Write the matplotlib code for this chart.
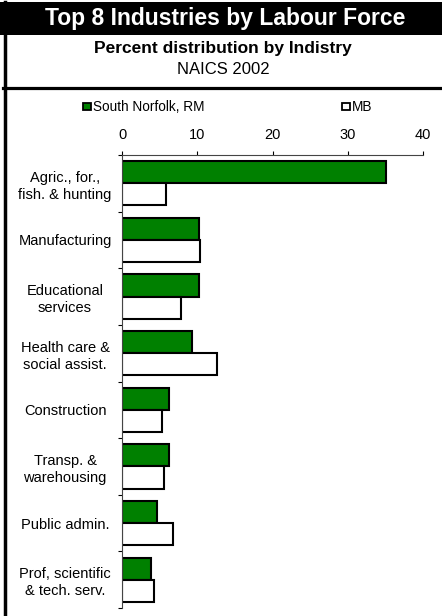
import matplotlib
matplotlib.use("Agg")
import matplotlib.pyplot as plt
from matplotlib.patches import Rectangle
from matplotlib.lines import Line2D
import numpy as np

plt.rcParams['font.family'] = ['Liberation Sans', 'DejaVu Sans']

categories = ["Agric., for.,\nfish. & hunting", "Manufacturing", "Educational\nservices",
              "Health care &\nsocial assist.", "Construction", "Transp. &\nwarehousing",
              "Public admin.", "Prof, scientific\n& tech. serv."]
south_norfolk = [35.1, 10.2, 10.2, 9.3, 6.2, 6.2, 4.6, 3.9]
mb = [5.9, 10.4, 7.8, 12.6, 5.3, 5.6, 6.8, 4.2]
series_names = ["South Norfolk, RM", "MB"]
xticks = [0, 10, 20, 30, 40]

W, H = 442, 616
fig = plt.figure(figsize=(W / 100, H / 100), dpi=100)
fig.patch.set_facecolor('white')

def fx(px):
    return px / W

def fy(py):
    return 1 - py / H

# title band
fig.patches.append(Rectangle((fx(0), fy(35)), 1, fy(2) - fy(35), transform=fig.transFigure,
                             facecolor='black', edgecolor='none', zorder=0))
fig.text(0.51, fy(19), "Top 8 Industries by Labour Force", ha='center', va='center',
         color='white', fontsize=16.5, fontweight='bold')
fig.text(0.505, fy(48), "Percent distribution by Indistry", ha='center', va='center',
         color='black', fontsize=12.5, fontweight='bold')
fig.text(0.505, fy(69), "NAICS 2002", ha='center', va='center', color='black', fontsize=12)
# separator line and left border
fig.lines.append(Line2D([fx(3), 1], [fy(87.5), fy(87.5)], transform=fig.transFigure,
                        color='black', lw=2.3))
fig.lines.append(Line2D([fx(5), fx(5)], [0, fy(2)], transform=fig.transFigure,
                        color='black', lw=2.5))

ax = fig.add_axes([fx(122), fy(608), fx(423) - fx(122), fy(155) - fy(608)])
n = len(categories)
y = np.arange(n)
bh = 0.39
ax.barh(y - bh / 2, south_norfolk, height=bh, color='#008000', edgecolor='black',
        linewidth=1.5, label=series_names[0])
ax.barh(y + bh / 2, mb, height=bh, color='white', edgecolor='black',
        linewidth=1.5, label=series_names[1])
ax.set_xlim(0, 40)
ax.set_ylim(n - 0.5, -0.5)
ax.xaxis.tick_top()
ax.set_xticks(xticks)
ax.set_xticklabels([str(t) for t in xticks], fontsize=10.5)
ax.tick_params(axis='x', direction='out', length=3, width=0.8, pad=6.5, colors='black')
ax.set_yticks(np.arange(n + 1) - 0.5, minor=True)
ax.set_yticks(y)
ax.set_yticklabels(categories, fontsize=10.5, ha='center', linespacing=1.3)
ax.tick_params(axis='y', which='major', length=0, pad=41)
ax.tick_params(axis='y', which='minor', direction='out', length=3, width=0.8)
for s in ['right', 'bottom']:
    ax.spines[s].set_visible(False)
ax.spines['top'].set_linewidth(0.8)
ax.spines['left'].set_linewidth(0.8)
ax.spines['top'].set_color('#444444')
ax.spines['left'].set_color('#444444')

# legend
for i, (xp, col) in enumerate([(83, '#008000'), (342, 'white')]):
    fig.patches.append(Rectangle((fx(xp), fy(110)), fx(7.5), fy(103) - fy(110),
                                 transform=fig.transFigure, facecolor=col,
                                 edgecolor='black', lw=1.3))
    fig.text(fx(xp + 10), fy(107), series_names[i], ha='left', va='center', fontsize=9.8)

fig.savefig("out.png", dpi=100)
